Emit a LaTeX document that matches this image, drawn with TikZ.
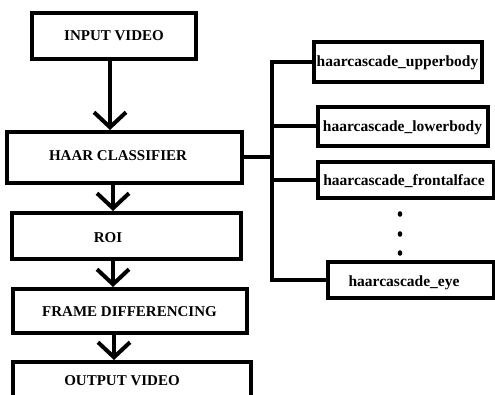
\documentclass[tikz,border=0pt]{standalone}
\usepackage{fontspec}
\setmainfont{Liberation Serif}
\usetikzlibrary{arrows.meta}
\begin{document}
\begin{tikzpicture}[x=1pt,y=1pt,
  box/.style={draw=black, line width=4pt, fill=white, inner sep=0pt},
  rbox/.style={draw=black, line width=4.5pt, fill=white, inner sep=0pt},
  ltext/.style={font=\bfseries\fontsize{15}{18}\selectfont},
  rtext/.style={font=\bfseries\fontsize{15.5}{18}\selectfont},
  arr/.style={line width=4pt, -{Straight Barb[length=15pt,width=32pt]}},
  conn/.style={line width=4pt}]
\useasboundingbox (0,0) rectangle (495,394);
\clip (0,0) rectangle (495,394);
\fill[white] (0,0) rectangle (495,394);
% left column
\node[box, minimum width=164pt, minimum height=46pt] (in) at (114,358) {};
\node[ltext] (tin) at (in.center) {INPUT VIDEO};
\node[box, minimum width=235pt, minimum height=51pt] (haar) at (124.5,236.5) {};
\node[ltext] (thaar) at (118,238) {HAAR CLASSIFIER};
\node[box, minimum width=229pt, minimum height=46pt] (roi) at (126.5,158) {};
\node[ltext] (troi) at (108,156) {ROI};
\node[box, minimum width=234pt, minimum height=44pt] (frame) at (130,83) {};
\node[ltext] (tframe) at (129.5,82) {FRAME DIFFERENCING};
\node[box, minimum width=238pt, minimum height=48pt] (out) at (132,8) {};
\node[ltext] (tout) at (122,13) {OUTPUT VIDEO};
% right column
\node[rbox, minimum width=168pt, minimum height=40pt] (ub) at (398,332) {};
\node[rtext] (tub) at (397.5,331) {haarcascade\_upperbody};
\node[rbox, minimum width=170pt, minimum height=39pt] (lb) at (403,267.5) {};
\node[rtext] (tlb) at (402.5,266) {haarcascade\_lowerbody};
\node[rbox, minimum width=176pt, minimum height=36pt] (ff) at (406,214) {};
\node[rtext] (tff) at (404,213) {haarcascade\_frontalface};
\node[rbox, minimum width=166pt, minimum height=36pt] (eye) at (411,114) {};
\node[rtext] (teye) at (404,111) {haarcascade\_eye};
% arrows
\coordinate (a1) at (110,0);
\coordinate (a2) at (113,0);
\coordinate (a3) at (113,0);
\coordinate (a4) at (114,0);
\draw[arr] (in.south -| a1) -- (haar.north -| a1);
\draw[arr] (haar.south -| a2) -- (roi.north -| a2);
\draw[arr] (roi.south -| a3) -- (frame.north -| a3);
\draw[arr] (frame.south -| a4) -- (out.north -| a4);
% tree connectors
\coordinate (tx) at (272,0);
\draw[conn] (haar.east) -- (haar.east -| tx);
\draw[conn] (ub.west) -- (ub.west -| tx) -- (eye.west -| tx) -- (eye.west);
\draw[conn] (lb.west) -- (lb.west -| tx);
\draw[conn] (ff.west) -- (ff.west -| tx);
% dots
\fill (400,180) ellipse (2.3pt and 2.8pt);
\fill (400,160) ellipse (2.3pt and 2.8pt);
\fill (400,141) ellipse (2.3pt and 2.8pt);
\end{tikzpicture}
\end{document}
